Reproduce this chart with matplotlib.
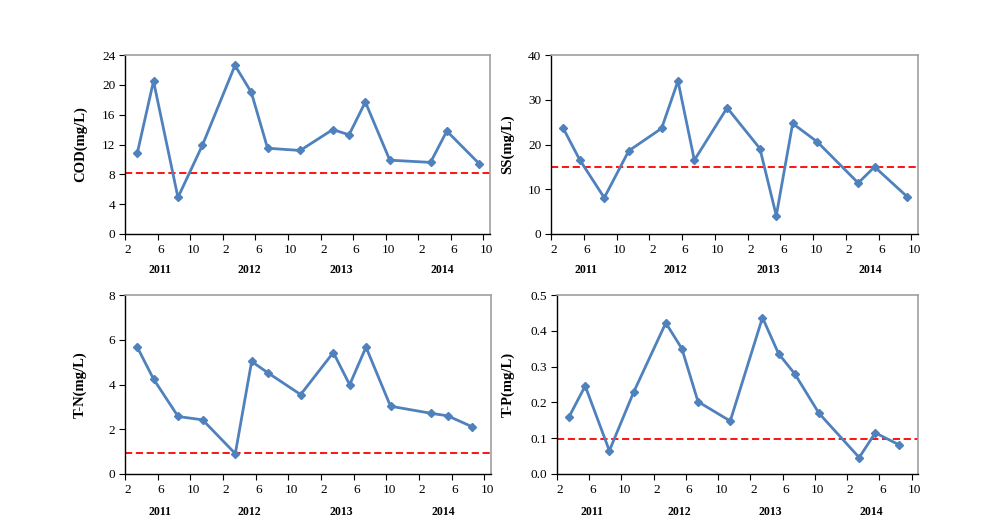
import matplotlib.pyplot as plt
import matplotlib.transforms as mtransforms

plt.rcParams['font.family'] = ['Liberation Serif', 'DejaVu Serif']

# months counted from Feb 2011 (0) ; samples sit mid-month
months_top = [1.5, 3.5, 6.5, 9.5, 13.5, 15.5, 17.5, 21.5, 25.5, 27.5, 29.5, 32.5, 37.5, 39.5, 43.5]
months_bot = [1.5, 3.5, 6.5, 9.5, 13.5, 15.5, 17.5, 21.5, 25.5, 27.5, 29.5, 32.5, 37.5, 39.5, 42.5]

cod = [10.8, 20.5, 4.9, 11.9, 22.6, 19.0, 11.5, 11.2, 14.0, 13.3, 17.7, 9.9, 9.6, 13.8, 9.4]
ss = [23.6, 16.6, 8.1, 18.6, 23.6, 34.2, 16.5, 28.2, 19.1, 4.1, 24.7, 20.6, 11.4, 15.0, 8.3]
tn = [5.67, 4.24, 2.57, 2.42, 0.91, 5.03, 4.52, 3.55, 5.43, 3.99, 5.67, 3.03, 2.71, 2.60, 2.11]
tp = [0.160, 0.246, 0.065, 0.228, 0.422, 0.350, 0.202, 0.148, 0.437, 0.336, 0.280, 0.170, 0.046, 0.115, 0.081]

standards = {'cod': 8.2, 'ss': 14.9, 'tn': 0.95, 'tp': 0.098}

tick_pos = list(range(0, 45, 4))
tick_labels = ['2', '6', '10'] * 4
years = ['2011', '2012', '2013', '2014']
year_pos = [4.3, 15.2, 26.5, 39.0]

W, H = 1003, 531
fig = plt.figure(figsize=(W / 100, H / 100), dpi=100)

# x, y, std, ylabel, ymax, ystep, fmt, (left, right, top, bottom) in pixels, label offset
panels = [
    (months_top, cod, standards['cod'], 'COD(mg/L)', 24, 4, '{:.0f}', (125, 490, 55, 234), 38),
    (months_top, ss, standards['ss'], 'SS(mg/L)', 40, 10, '{:.0f}', (551, 918, 55, 234), 37),
    (months_bot, tn, standards['tn'], 'T-N(mg/L)', 8, 2, '{:.0f}', (125, 491, 295, 474), 38),
    (months_bot, tp, standards['tp'], 'T-P(mg/L)', 0.5, 0.1, '{:.1f}', (557, 918, 295, 474), 42),
]

for x, y, std, ylab, ymax, ystep, fmt, box, lab_off in panels:
    l, r, t, b = box
    ax = fig.add_axes([l / W, (H - b) / H, (r - l) / W, (b - t) / H])
    ax.plot(x, y, color='#4F81BD', lw=2.0, marker='D', ms=4.5, zorder=3)
    ax.axhline(std, color='#FF0000', lw=1.3, ls=(0, (4, 2)), zorder=2)

    ax.set_xlim(0, 44.8)
    ax.set_ylim(0, ymax)
    n = int(round(ymax / ystep))
    yt = [i * ystep for i in range(n + 1)]
    ax.set_yticks(yt)
    ax.set_yticklabels([fmt.format(v) for v in yt])
    ax.set_xticks(tick_pos)
    ax.set_xticklabels(tick_labels)
    ax.tick_params(axis='both', direction='out', length=4, width=0.8,
                   labelsize=9.5, pad=3)
    off = mtransforms.ScaledTranslation(3 / 100, 0, fig.dpi_scale_trans)
    for lab in ax.get_xticklabels():
        lab.set_transform(lab.get_transform() + off)

    for side in ['top', 'right']:
        ax.spines[side].set_color('#A0A0A0')
        ax.spines[side].set_linewidth(1.2)
    for side in ['left', 'bottom']:
        ax.spines[side].set_color('black')
        ax.spines[side].set_linewidth(1.0)

    ax.set_ylabel(ylab, fontsize=10.5, fontweight='bold')
    ax.yaxis.set_label_coords(-lab_off / (r - l), 0.5)

    trans = mtransforms.blended_transform_factory(ax.transData, ax.transAxes)
    ybelow = -(36 if t < 100 else 38) / (b - t)
    for yr, xp in zip(years, year_pos):
        ax.text(xp, ybelow, yr, transform=trans, ha='center', va='center',
                fontsize=8.5, fontweight='bold')

fig.savefig('out.png', dpi=100)
